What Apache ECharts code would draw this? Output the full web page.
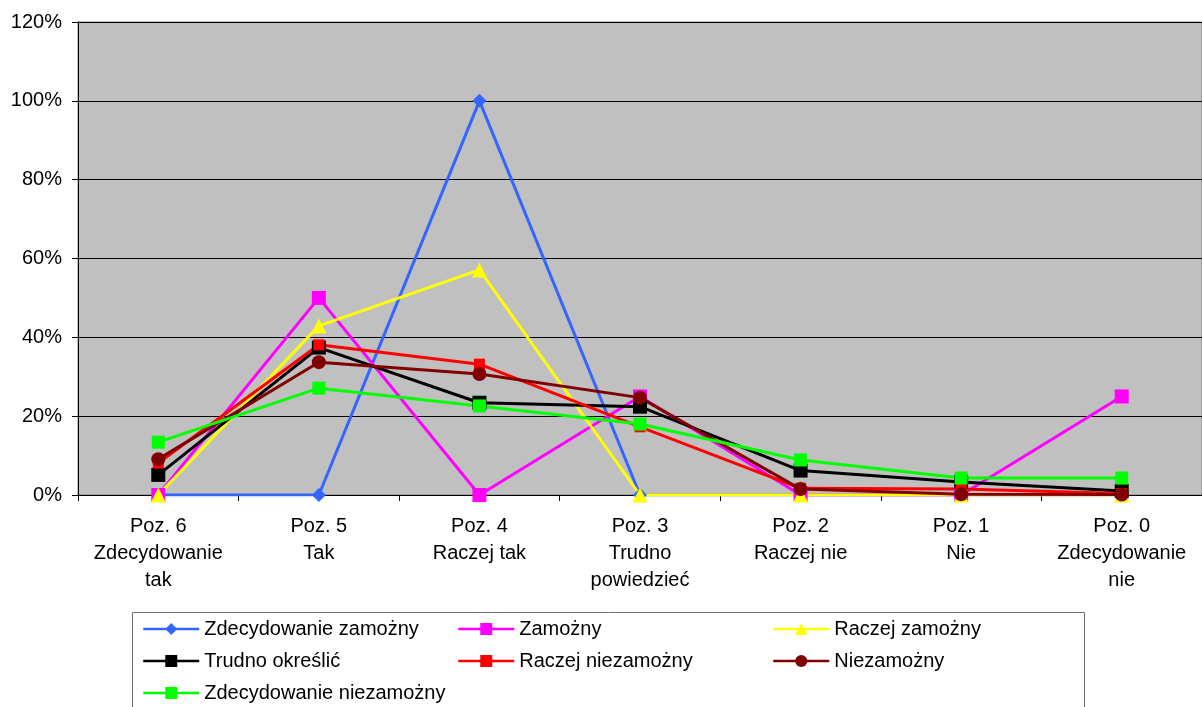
<!DOCTYPE html>
<html>
<head>
<meta charset="utf-8">
<script src="https://cdn.jsdelivr.net/npm/echarts@6/dist/echarts.min.js"></script>
<style>
  html, body { margin: 0; padding: 0; background: #fff; }
  #chart { width: 1202px; height: 707px; }
</style>
</head>
<body>
<div id="chart"></div>
<script>
// Answer categories (position on the scale)
const categories = [
  'Poz. 6\nZdecydowanie\ntak',
  'Poz. 5\nTak',
  'Poz. 4\nRaczej tak',
  'Poz. 3\nTrudno\npowiedzieć',
  'Poz. 2\nRaczej nie',
  'Poz. 1\nNie',
  'Poz. 0\nZdecydowanie\nnie'
];

// Share of answers per group, in percent
const zdecydowanieZamozny   = [0, 0, 100, 0, 0, 0, 0];
const zamozny               = [0, 50, 0, 25, 0, 0, 25];
const raczejZamozny         = [0, 42.9, 57.1, 0, 0, 0, 0];
const trudnoOkreslic        = [5.1, 37.4, 23.4, 22.4, 6.2, 3.3, 1.0];
const raczejNiezamozny      = [8.1, 38.1, 33.2, 17.3, 1.7, 1.5, 0.4];
const niezamozny            = [9.1, 33.7, 30.7, 24.7, 1.5, 0.2, 0.1];
const zdecydowanieNiezamozny= [13.4, 27.1, 22.6, 18.0, 8.9, 4.3, 4.3];

// Value axis ticks
const yTicks = { min: 0, max: 120, interval: 20 };

const seriesDefs = [
  { name: 'Zdecydowanie zamożny',    data: zdecydowanieZamozny,    color: '#3366FF', symbol: 'diamond',  size: 14 },
  { name: 'Zamożny',                 data: zamozny,                color: '#FF00FF', symbol: 'rect',     size: 14 },
  { name: 'Raczej zamożny',          data: raczejZamozny,          color: '#FFFF00', symbol: 'triangle', size: 15 },
  { name: 'Trudno określić',         data: trudnoOkreslic,         color: '#000000', symbol: 'rect',     size: 14 },
  { name: 'Raczej niezamożny',       data: raczejNiezamozny,       color: '#FF0000', symbol: 'rect',     size: 11 },
  { name: 'Niezamożny',              data: niezamozny,             color: '#800000', symbol: 'circle',   size: 14 },
  { name: 'Zdecydowanie niezamożny', data: zdecydowanieNiezamozny, color: '#00FF00', symbol: 'rect',     size: 13 }
];

const font = 'Liberation Sans, Arial, sans-serif';

function legendCol(names, left) {
  return {
    data: names,
    orient: 'vertical',
    left: left,
    top: 619,
    padding: 0,
    itemWidth: 56,
    itemHeight: 15,
    itemGap: 12,
    selectedMode: false,
    lineStyle: { width: 2.5 },
    textStyle: { fontFamily: font, fontSize: 20, color: '#000', lineHeight: 20 }
  };
}

const chart = echarts.init(document.getElementById('chart'), null, { renderer: 'canvas' });

chart.setOption({
  animation: false,
  backgroundColor: '#ffffff',
  grid: {
    left: 78, right: 0, top: 22, bottom: 212,
    show: true,
    backgroundColor: '#C0C0C0',
    borderColor: '#808080',
    borderWidth: 1
  },
  xAxis: {
    type: 'category',
    data: categories,
    boundaryGap: true,
    axisLine: { lineStyle: { color: '#000', width: 1 } },
    axisTick: { show: true, length: 6, lineStyle: { color: '#000' } },
    axisLabel: {
      interval: 0,
      margin: 18,
      fontFamily: font,
      fontSize: 20,
      lineHeight: 27,
      color: '#000',
      align: 'center'
    }
  },
  yAxis: {
    type: 'value',
    min: yTicks.min,
    max: yTicks.max,
    interval: yTicks.interval,
    axisLine: { show: true, lineStyle: { color: '#000', width: 1 } },
    axisTick: { show: true, length: 6, lineStyle: { color: '#000' } },
    splitLine: { show: true, lineStyle: { color: '#000', width: 1 } },
    axisLabel: {
      margin: 16,
      fontFamily: font,
      fontSize: 20,
      color: '#000',
      formatter: '{value}%'
    }
  },
  legend: [
    legendCol(['Zdecydowanie zamożny', 'Trudno określić', 'Zdecydowanie niezamożny'], 142),
    legendCol(['Zamożny', 'Raczej niezamożny'], 457),
    legendCol(['Raczej zamożny', 'Niezamożny'], 772)
  ],
  graphic: [
    {
      type: 'rect',
      left: 130, top: 610,
      shape: { width: 952, height: 130 },
      style: { fill: 'none', stroke: '#707070', lineWidth: 1 },
      z: -1
    }
  ],
  series: seriesDefs.map(s => ({
    name: s.name,
    type: 'line',
    data: s.data,
    symbol: s.symbol,
    symbolSize: s.size,
    showAllSymbol: true,
    itemStyle: { color: s.color },
    lineStyle: { color: s.color, width: 3 }
  }))
});
</script>
</body>
</html>
